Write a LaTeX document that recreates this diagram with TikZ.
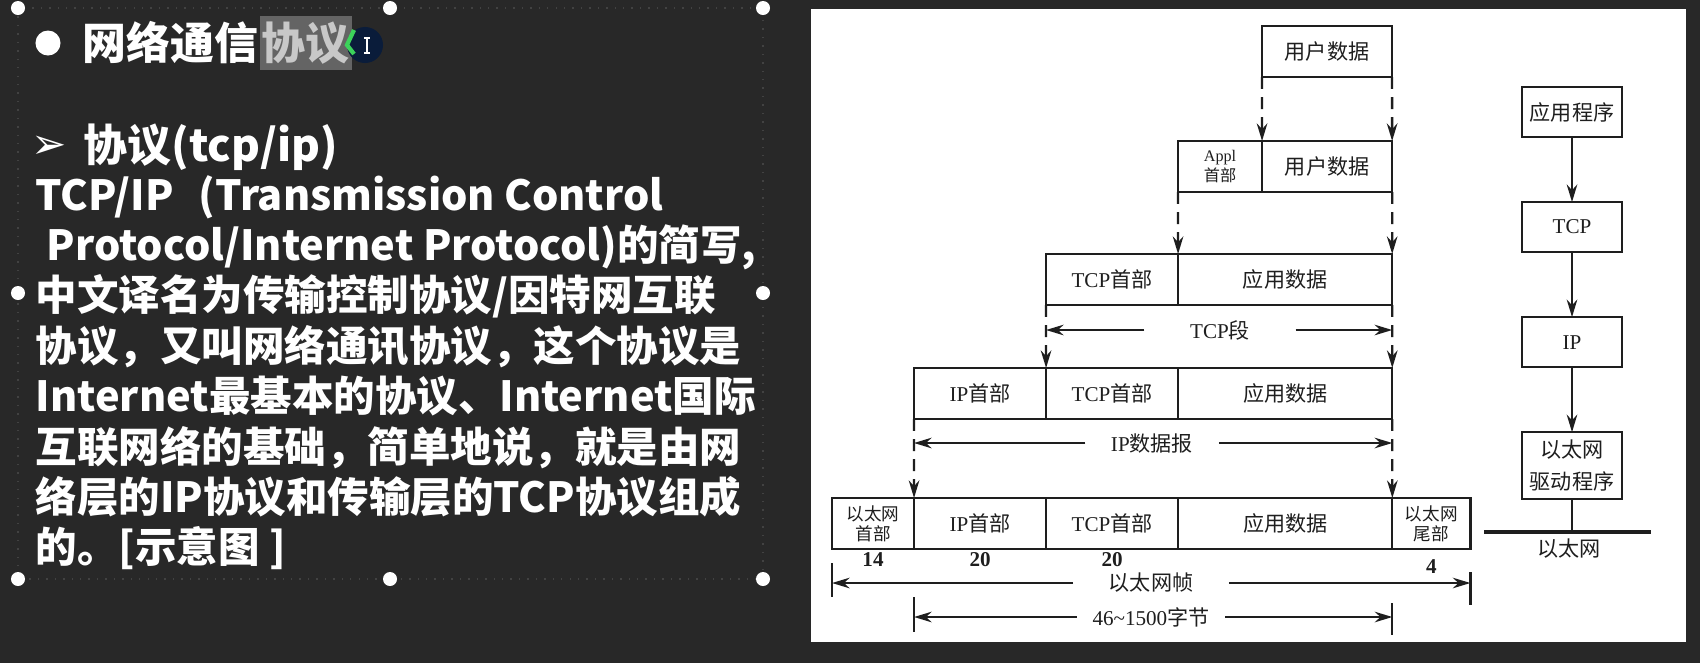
\documentclass[tikz,border=0pt]{standalone}
\usepackage{fontspec}
\setmainfont{Liberation Serif}
\newfontfamily\cjk{Noto Sans CJK SC}
\newfontfamily\dingfont{DejaVu Sans}
\usetikzlibrary{positioning,arrows.meta}
\definecolor{board}{RGB}{40,40,40}
\definecolor{ink}{RGB}{30,30,30}
\definecolor{selgray}{RGB}{100,100,100}
\definecolor{selink}{RGB}{200,200,200}
\definecolor{cursorblue}{RGB}{10,28,58}
\definecolor{cursorgreen}{RGB}{60,210,90}
\newcommand\en[1]{{\rmfamily #1}}
\newcommand\chalk{\cjk\bfseries\fontsize{11.8}{14}\selectfont}
\newcommand\scanfont{\cjk\fontsize{6}{7}\selectfont}

\begin{document}
\begin{tikzpicture}[x=0.01cm, y=-0.01cm, >={Stealth[length=5pt, width=3pt]},
  node distance=0.65cm,
  heading/.style={text=white, font=\cjk\bfseries\fontsize{12.5}{14}\selectfont, inner sep=0pt},
  chalkline/.style={text=white, font=\chalk, anchor=base west, inner sep=0pt},
  grip/.style={circle, fill=white, inner sep=0pt, minimum size=0.14cm},
  cell/.style={draw=ink, line width=0.65pt, anchor=north west, outer sep=0pt, inner sep=0pt, minimum height=0.51cm, align=center, text=ink, font=\scanfont},
  layer/.style={draw=ink, line width=0.65pt, outer sep=0pt, inner sep=0pt, minimum width=1cm, minimum height=0.5cm, align=center, text=ink, font=\scanfont},
  span/.style={inner ysep=0pt, inner xsep=0.28cm, text=ink, font=\scanfont},
  count/.style={inner sep=0pt, text=ink, font=\bfseries\fontsize{6}{6}\selectfont},
  feed/.style={->, draw=ink, line width=0.65pt, dash pattern=on 3.4pt off 2.3pt},
  measure/.style={->, draw=ink, line width=0.65pt},
  tick/.style={draw=ink, line width=0.65pt}]
\useasboundingbox (0,0) rectangle (1700,663);
\fill[board] (0,0) rectangle (1700,663);
\fill[white] (811,9) rectangle (1686,642);

\draw[white, opacity=0.12, dotted] (18,8) rectangle (763,579);
\foreach \gx/\gy [count=\i] in {18/8, 390/8, 763/8, 18/293, 763/293, 18/579, 390/579, 763/579}
  \node[grip] (grip\i) at (\gx,\gy) {};

\node[circle, fill=white, inner sep=0pt, minimum size=0.25cm] (bullet) at (48,43) {};
\node[heading, anchor=west] (title) at (82,43) {网络通信};
\node[heading, fill=selgray, text=selink, inner xsep=0.02cm, inner ysep=0.06cm, right=0pt of title] (titlesel) {协议};
\fill[cursorblue] (365,45) circle (0.18cm);
\draw[cursorgreen, line width=1.2pt] (354,30) -- (347,45) -- (354,54);
\draw[white, line width=0.4pt] (367,38) -- (367,53) (364,38) -- (370,38) (364,53) -- (370,53);

\node[text=white, font=\dingfont\fontsize{12}{14}\selectfont, inner sep=0pt] (pointer) at (49,147) {➢};
\node[heading, anchor=west] (sub) at (83,147) {协议(tcp/ip)};
\foreach \txt [count=\i] in {{TCP/IP\hspace{0.6em}(Transmission Control}, {\hspace{0.11cm}Protocol/Internet Protocol)的简写,}, {中文译名为传输控制协议/因特网互联}, {协议，又叫网络通讯协议，这个协议是}, {Internet最基本的协议、Internet国际}, {互联网络的基础，简单地说，就是由网}, {络层的IP协议和传输层的TCP协议组成}, {的。[示意图 ]}}
  \node[chalkline] (body\i) at (35, 159.6+50.4*\i) {\txt};

\node[cell, minimum width=1.30cm] (user0) at (1262,26) {用户数据};
\node[cell, minimum width=0.84cm, font=\cjk\fontsize{4.6}{4.6}\selectfont] (appl1) at (1178,141) {\en{Appl}\\首部};
\node[cell, minimum width=1.30cm, right=0pt of appl1] (user1) {用户数据};
\node[cell, minimum width=1.32cm] (tcph2) at (1046,254) {\en{TCP}首部};
\node[cell, minimum width=2.14cm, right=0pt of tcph2] (app2) {应用数据};
\node[cell, minimum width=1.32cm] (iph3) at (914,368) {\en{IP}首部};
\node[cell, minimum width=1.32cm, right=0pt of iph3] (tcph3) {\en{TCP}首部};
\node[cell, minimum width=2.14cm, right=0pt of tcph3] (app3) {应用数据};
\node[cell, minimum width=0.82cm, font=\cjk\fontsize{5}{5.6}\selectfont] (ethh4) at (832,498) {以太网\\首部};
\node[cell, minimum width=1.32cm, right=0pt of ethh4] (iph4) {\en{IP}首部};
\node[cell, minimum width=1.32cm, right=0pt of iph4] (tcph4) {\en{TCP}首部};
\node[cell, minimum width=2.14cm, right=0pt of tcph4] (app4) {应用数据};
\node[cell, minimum width=0.78cm, font=\cjk\fontsize{5}{5.6}\selectfont, right=0pt of app4] (etht4) {以太网\\尾部};

\draw[feed] (user0.south west) -- (user1.north west);
\draw[feed] (user0.south east) -- (user1.north east);
\draw[feed] (appl1.south west) -- (app2.north west);
\draw[feed] (user1.south east) -- (app2.north east);
\draw[feed] (tcph2.south west) -- (tcph3.north west);
\draw[feed] (app2.south east) -- (app3.north east);
\draw[feed] (iph3.south west) -- (iph4.north west);
\draw[feed] (app3.south east) -- (app4.north east);

\node[span, inner xsep=0.45cm] (tcpseg) at (1220,330) {\en{TCP}段};
\draw[measure] (tcpseg) -- (tcpseg -| tcph2.west);
\draw[measure] (tcpseg) -- (tcpseg -| app2.east);
\node[span, inner xsep=0.25cm] (ipdg) at (1152,443) {\en{IP}数据报};
\draw[measure] (ipdg) -- (ipdg -| iph3.west);
\draw[measure] (ipdg) -- (ipdg -| app3.east);

\node[count, below=0.03cm of ethh4] (len14) {14};
\node[count, below=0.03cm of iph4] (len20ip) {20};
\node[count, below=0.03cm of tcph4] (len20tcp) {20};
\node[count, below=0.1cm of etht4] (len4) {4};

\node[span, inner xsep=0.35cm] (frame) at (1151,583) {以太网帧};
\draw[measure] (frame) -- (frame -| ethh4.west);
\draw[measure] (frame) -- (frame -| etht4.east);
\draw[tick] ([yshift=-0.14cm]ethh4.south west) -- ([yshift=-0.48cm]ethh4.south west);
\draw[tick] ([yshift=-0.23cm]etht4.south east) -- ([yshift=-0.56cm]etht4.south east);
\node[span, inner xsep=0.15cm] (payload) at (1151,617) {\en{46\textasciitilde 1500}字节};
\draw[measure] (payload) -- (payload -| iph4.west);
\draw[measure] (payload) -- (payload -| app4.east);
\draw[tick] ([yshift=-0.48cm]iph4.south west) -- ([yshift=-0.83cm]iph4.south west);
\draw[tick] ([yshift=-0.54cm]app4.south east) -- ([yshift=-0.86cm]app4.south east);

\node[layer] (stackapp) at (1572,112) {应用程序};
\node[layer, below=of stackapp] (stacktcp) {\en{TCP}};
\node[layer, below=of stacktcp] (stackip) {\en{IP}};
\node[layer, below=of stackip, minimum height=0.67cm, font=\cjk\fontsize{6}{9}\selectfont] (stackdrv) {以太网\\驱动程序};
\draw[measure] (stackapp) -- (stacktcp);
\draw[measure] (stacktcp) -- (stackip);
\draw[measure] (stackip) -- (stackdrv);
\coordinate (wireL) at (1484,532);
\coordinate (wireR) at (1651,532);
\draw[ink, line width=1.3pt] (wireL) -- (wireR);
\draw[tick] (stackdrv) -- (stackdrv |- wireL);
\node[span, inner xsep=0pt] (wire) at (1569,549) {以太网};
\end{tikzpicture}
\end{document}
